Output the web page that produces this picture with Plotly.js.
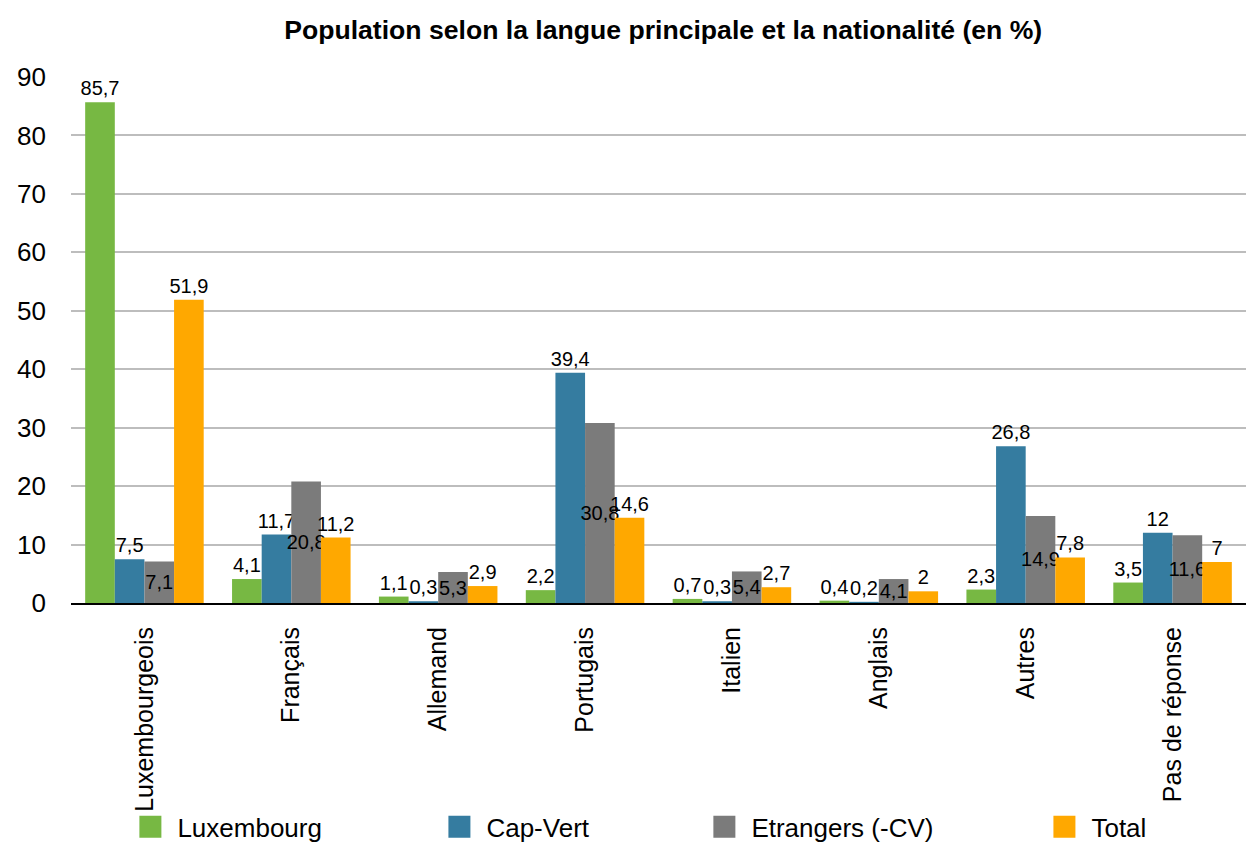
<!DOCTYPE html>
<html>
<head>
<meta charset="utf-8">
<script src="https://cdn.plot.ly/plotly-3.0.1.min.js"></script>
<style>
html,body{margin:0;padding:0;background:#fff;}
#chart{width:1246px;height:843px;}
</style>
</head>
<body>
<div id="chart"></div>
<script>
const categories = ["Luxembourgeois","Français","Allemand","Portugais","Italien","Anglais","Autres","Pas de réponse"];
const seriesNames = ["Luxembourg","Cap-Vert","Etrangers (-CV)","Total"];
const luxembourg = [85.7, 4.1, 1.1, 2.2, 0.7, 0.4, 2.3, 3.5];
const capVert    = [7.5, 11.7, 0.3, 39.4, 0.3, 0.2, 26.8, 12];
const etrangers  = [7.1, 20.8, 5.3, 30.8, 5.4, 4.1, 14.9, 11.6];
const total      = [51.9, 11.2, 2.9, 14.6, 2.7, 2, 7.8, 7];
const colors = ["#77b843", "#357ca0", "#7b7b7b", "#ffa800"];

const FONT = '"Liberation Sans", Arial, Helvetica, sans-serif';
const fmt = v => String(v).replace('.', ',');
const seriesData = [luxembourg, capVert, etrangers, total];
const legendIds = ['legend','legend2','legend3','legend4'];

const traces = seriesData.map((vals, i) => ({
  type: 'bar',
  name: seriesNames[i],
  x: categories,
  y: vals,
  text: vals.map(fmt),
  textposition: i === 2 ? 'inside' : 'outside',
  insidetextanchor: 'middle',
  textangle: 0,
  constraintext: 'none',
  cliponaxis: false,
  textfont: {family: FONT, size: 20, color: '#000'},
  insidetextfont: {family: FONT, size: 20, color: '#000'},
  outsidetextfont: {family: FONT, size: 20, color: '#000'},
  marker: {color: colors[i], line: {width: 0}},
  legend: legendIds[i],
  hoverinfo: 'x+y+name'
}));

const legendX = [0.0565, 0.3195, 0.545, 0.8344];
const legendBase = x => ({
  x: x, xanchor: 'left', y: -0.4257, yanchor: 'middle',
  orientation: 'h', bgcolor: 'rgba(0,0,0,0)', borderwidth: 0,
  font: {family: FONT, size: 26, color: '#000'}
});

const layout = {
  width: 1246, height: 843,
  margin: {l: 71, r: 0, t: 77, b: 240, pad: 0, autoexpand: false},
  paper_bgcolor: '#fff', plot_bgcolor: '#fff',
  font: {family: FONT, color: '#000'},
  title: {
    text: '<b>Population selon la langue principale et la nationalité (en %)</b>',
    font: {family: FONT, size: 26.6, color: '#000'},
    x: 0.504, xref: 'paper', xanchor: 'center',
    y: 1 - 30/843, yref: 'container', yanchor: 'middle'
  },
  barmode: 'group',
  bargap: 0.193,
  bargroupgap: 0,
  xaxis: {
    type: 'category',
    automargin: false,
    tickangle: -90,
    tickfont: {family: FONT, size: 25, color: '#000'},
    showline: true, linecolor: '#000', linewidth: 2,
    ticks: '', showgrid: false, zeroline: false,
    ticklabelstandoff: 12
  },
  yaxis: {
    automargin: false,
    range: [0, 90],
    dtick: 10,
    tick0: 0,
    tickfont: {family: FONT, size: 26, color: '#000'},
    showgrid: true, gridcolor: '#bdbdbd', gridwidth: 2,
    zeroline: false, showline: false, ticks: '',
    ticklabelstandoff: 24
  },
  showlegend: true,
  legend: legendBase(legendX[0]),
  legend2: legendBase(legendX[1]),
  legend3: legendBase(legendX[2]),
  legend4: legendBase(legendX[3])
};

Plotly.newPlot('chart', traces, layout, {displayModeBar: false, staticPlot: true}).then(() => {
  document.querySelectorAll('.legendpoints path').forEach(p => {
    p.setAttribute('d', 'M4,11H-18V-11H4Z');
  });
});
</script>
</body>
</html>
